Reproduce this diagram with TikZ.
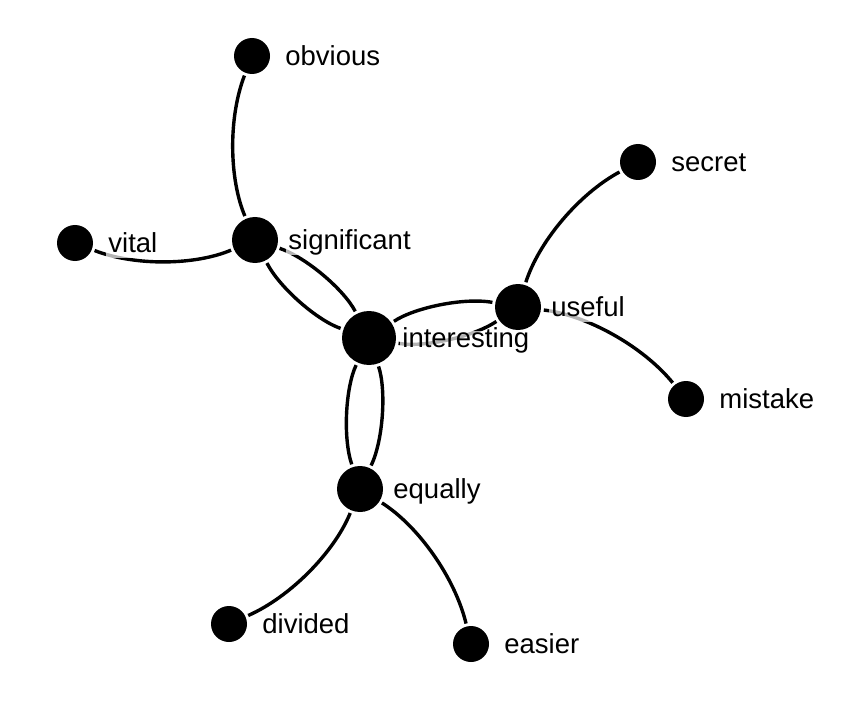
\documentclass[tikz,border=0pt]{standalone}
\usepackage{fontspec}
\setmainfont{Liberation Sans}
\pgfdeclarelayer{edges}
\pgfdeclarelayer{labels}
\pgfsetlayers{edges,labels,main}
\tikzset{
  node-leaf/.style={circle, fill=black, minimum size=18pt, inner sep=0pt},
  node-mid/.style={node-leaf, minimum size=23pt},
  node-hub/.style={node-leaf, minimum size=27pt},
  % gap left at each end: radius of the node plus a little
  link/.style 2 args={line width=1.7pt, bend angle=22, looseness=0.92,
    shorten <=#1, shorten >=#2},
  word/.style={
    anchor=base west,
    font=\fontsize{13.75}{16}\selectfont,
    fill=white, fill opacity=0.7, text opacity=1,
    inner sep=1pt, text height=0.73em, text depth=0.2em
  }
}

\begin{document}
\begin{tikzpicture}[x=0.5pt, y=-0.5pt]
  \useasboundingbox (0,0) rectangle (863,701);
  % Word nodes
  \node[node-leaf] (obvious) at (252,56) {};
  \node[node-mid] (significant) at (255,240) {};
  \node[node-leaf] (vital) at (75,243) {};
  \node[node-hub] (interesting) at (369,338) {};
  \node[node-mid] (useful) at (518,307) {};
  \node[node-leaf] (secret) at (638,162) {};
  \node[node-leaf] (mistake) at (686,399) {};
  \node[node-mid] (equally) at (360,489) {};
  \node[node-leaf] (divided) at (229,624) {};
  \node[node-leaf] (easier) at (471,644) {};
  % Links, centre to centre
  \begin{pgfonlayer}{edges}
    \draw[link={10.5pt}{13pt}] (obvious.center) to[bend right] (significant.center);
    \draw[link={10.5pt}{13pt}] (vital.center) to[bend right] (significant.center);
    \draw[link={13pt}{15pt}] (significant.center) to[bend left] (interesting.center);
    \draw[link={13pt}{15pt}] (significant.center) to[bend right] (interesting.center);
    \draw[link={15pt}{13pt}] (interesting.center) to[bend left] (useful.center);
    \draw[link={15pt}{13pt}] (interesting.center) to[bend right] (useful.center);
    \draw[link={13pt}{10.5pt}] (useful.center) to[bend left] (secret.center);
    \draw[link={13pt}{10.5pt}] (useful.center) to[bend left] (mistake.center);
    \draw[link={15pt}{13pt}] (interesting.center) to[bend left] (equally.center);
    \draw[link={15pt}{13pt}] (interesting.center) to[bend right] (equally.center);
    \draw[link={13pt}{10.5pt}] (equally.center) to[bend left] (divided.center);
    \draw[link={13pt}{10.5pt}] (equally.center) to[bend left] (easier.center);
  \end{pgfonlayer}
  % Labels
  \begin{pgfonlayer}{labels}
    \foreach \w in {obvious, significant, vital, interesting, useful,
                    secret, mistake, equally, divided, easier}
      \node[word] (\w-label) at ([xshift=15.5pt, yshift=-4.7pt]\w.center) {\w};
  \end{pgfonlayer}
\end{tikzpicture}
\end{document}
